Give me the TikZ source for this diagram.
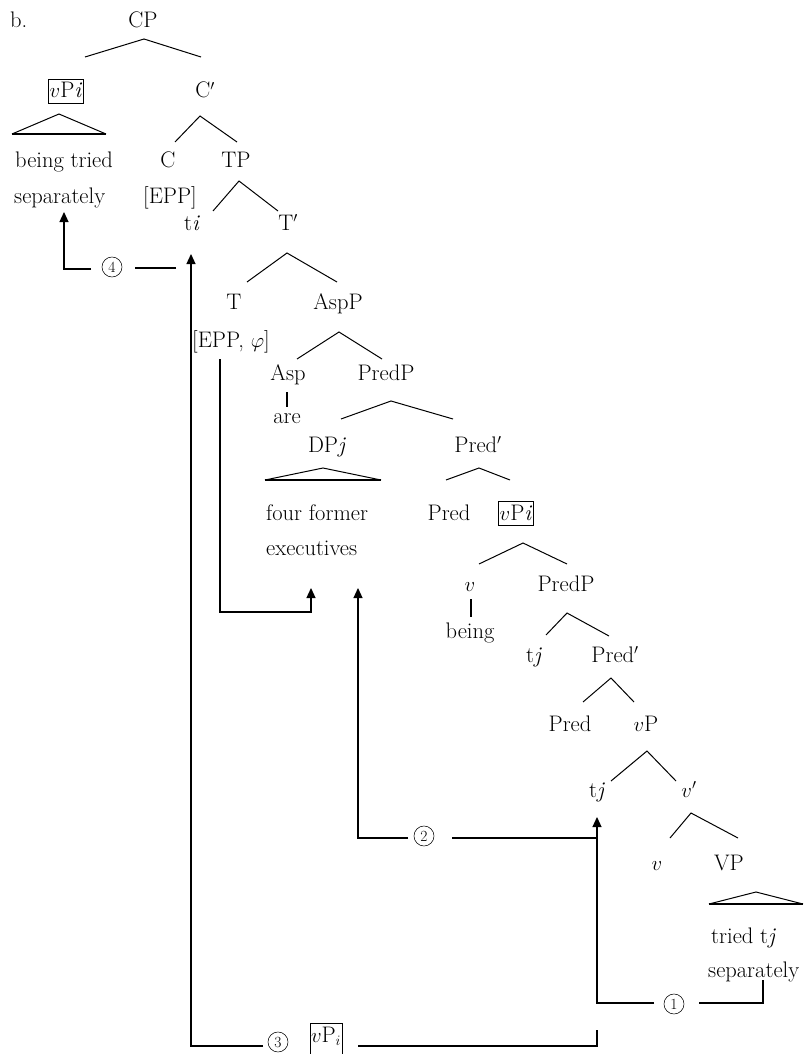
\documentclass[tikz,border=0pt]{standalone}
\usepackage{fontspec}
\usetikzlibrary{arrows.meta,calc}
\newcommand\treefont{\fontsize{22.5}{26}\selectfont}
\newcommand\numfont{\fontsize{15.5}{18}\selectfont}
% a branching point: apex, left end and right end become named coordinates
\newcommand\fork[7]{%
  \coordinate (#1-a) at (#2,#3);
  \coordinate (#1-l) at (#4,#5);
  \coordinate (#1-r) at (#6,#7);
  \draw[branch] (#1-l) -- (#1-a) -- (#1-r);}
% a triangle standing for an unanalysed constituent
\newcommand\roof[5]{%
  \coordinate (#1-a) at (#2,#3);
  \coordinate (#1-l) at (#4,#5);
  \coordinate (#1-r) at ($(#1-l)+(2*#2-2*#4,0)$);
  \draw[branch] (#1-l) -- (#1-a) -- (#1-r);
  \draw[line width=1.4pt] (#1-l) -- (#1-r);}
\begin{document}
\begin{tikzpicture}[x=1pt,y=-1pt,
  lab/.style={anchor=base, inner sep=0pt, font=\treefont},
  labw/.style={anchor=base west, inner sep=0pt, font=\treefont},
  boxlab/.style={anchor=base, draw, line width=0.6pt, inner xsep=1pt, inner ysep=2pt,
                 text height=17pt, text depth=3pt, font=\treefont},
  stepnum/.style={circle, draw, line width=0.55pt, minimum size=20pt, inner sep=0pt,
                  font=\numfont},
  branch/.style={line width=1pt, line join=miter},
  move/.style={line width=1.2pt},
  movearrow/.style={move, -{Triangle[length=10pt,width=9pt]}}]
\useasboundingbox (0,0) rectangle (808,1054);

% ---------- labels ----------
\node[labw] (ex) at (10,28) {b.};
\node[lab] (CP) at (143,28) {CP};
\node[boxlab] (vPtop) at (66,98) {$v$P\textit{i}};
\node[lab] (Cbar) at (205,98) {C$'$};
\node[labw] (bt) at (15,167) {being tried};
\node[labw] (sep1) at (14,203) {separately};
\node[lab] (C) at (168,167) {C};
\node[lab] (TP) at (236,167) {TP};
\node[lab] (EPP) at (170,203) {[EPP]};
\node[lab] (ti) at (192,230) {t\textit{i}};
\node[lab] (Tbar) at (288,230) {T$'$};
\node[lab] (T) at (234,309) {T};
\node[lab] (AspP) at (338,309) {AspP};
\node[lab] (EPPphi) at (231,347) {[EPP, $\varphi$]};
\node[lab] (Asp) at (288,380) {Asp};
\node[lab] (PredP1) at (386,380) {PredP};
\node[lab] (are) at (287,423) {are};
\node[lab] (DPj) at (327,452) {DP\textit{j}};
\node[lab] (PredBar1) at (478,452) {Pred$'$};
\node[labw] (ff) at (266,520) {four former};
\node[labw] (exe) at (266,555) {executives};
\node[lab] (Pred1) at (449,520) {Pred};
\node[boxlab] (vPmid) at (516,520) {$v$P\textit{i}};
\node[lab] (v1) at (470,591) {$v$};
\node[lab] (PredP2) at (566,591) {PredP};
\node[lab] (being) at (470,638) {being};
\node[lab] (tj1) at (534,662) {t\textit{j}};
\node[lab] (PredBar2) at (615,662) {Pred$'$};
\node[lab] (Pred2) at (570,731) {Pred};
\node[lab] (vP) at (646,731) {$v$P};
\node[lab] (tj2) at (597,797) {t\textit{j}};
\node[lab] (vbar) at (689,797) {$v'$};
\node[lab] (v2) at (657,870) {$v$};
\node[lab] (VP) at (729,870) {VP};
\node[labw] (tt) at (711,943) {tried t\textit{j}};
\node[labw] (sep2) at (708,977) {separately};
\node[boxlab, text depth=10pt] (vPlow) at (326,1042) {$v\mathrm{P}_i$};

% ---------- tree branches ----------
\fork{CP}{144}{39}{85}{57}{201}{57}
\fork{Cbar}{200}{116}{175}{142}{237}{142}
\fork{TP}{239}{181}{213}{211}{278}{211}
\fork{Tbar}{287}{253}{247}{282}{337}{282}
\fork{AspP}{339}{332}{297}{359}{382}{359}
\fork{PredPa}{391}{401}{341}{419}{453}{419}
\fork{PredBara}{479}{468}{446}{480}{510}{480}
\fork{vPmid}{523}{543}{479}{564}{567}{564}
\fork{PredPb}{567}{613}{546}{635}{609}{636}
\fork{PredBarb}{611}{678}{583}{702}{634}{702}
\fork{vP}{647}{751}{611}{781}{676}{781}
\fork{vbar}{691}{813}{670}{838}{738}{838}
\roof{rtop}{59}{114}{12}{134}
\roof{rDP}{323}{468}{265}{480}
\roof{rVP}{756}{892}{709}{904}
\draw[line width=1.4pt] ($(Asp.base)+(-1,12)$) -- ($(are.base)+(0,-16)$);
\draw[line width=1.4pt] ($(v1.base)+(1,8)$) -- ($(being.base)+(1,-21)$);

% ---------- movement paths ----------
% step 1
\node[stepnum] (n1) at (674,1004) {1};
\coordinate (m1a) at ($(sep2.base west)+(55,3)$);
\coordinate (m1b) at ($(n1)+(25,-1)$);
\coordinate (m1c) at ($(n1)+(-20,-1)$);
\draw[move] (m1a) |- (m1b);
\draw[movearrow] (m1c) -| ($(tj2.base)+(0,20)$);
% step 2
\node[stepnum] (n2) at (424,836) {2};
\coordinate (m2a) at ($(tj2.base)+(0,41)$);
\coordinate (m2b) at ($(n2)+(28,2)$);
\coordinate (m2c) at ($(n2)+(-16,2)$);
\draw[move] (m2a) -- (m2b);
\draw[movearrow] (m2c) -| ($(exe.base west)+(92,33)$);
% step 3
\node[stepnum] (n3) at (278,1042) {3};
\coordinate (m3a) at ($(tj2.base)+(0,233)$);
\coordinate (m3b) at ($(vPlow.base)+(32,4)$);
\coordinate (m3c) at ($(n3)+(-15,4)$);
\draw[move] (m3a) |- (m3b);
\draw[movearrow] (m3c) -| ($(ti.base)+(-1,24)$);
% step 4
\node[stepnum] (n4) at (112,267) {4};
\coordinate (m4a) at ($(ti.base)+(-16,38)$);
\coordinate (m4b) at ($(n4)+(23,1)$);
\coordinate (m4c) at ($(n4)+(-21,2)$);
\draw[move] (m4a) -- (m4b);
\draw[movearrow] (m4c) -| ($(sep1.base west)+(50,9)$);
% agreement of T with the subject
\coordinate (agc) at ($(exe.base west)+(45,57)$);
\draw[movearrow] ($(EPPphi.base)+(-11,12)$) |- (agc) -- ($(exe.base west)+(45,33)$);
\end{tikzpicture}
\end{document}
